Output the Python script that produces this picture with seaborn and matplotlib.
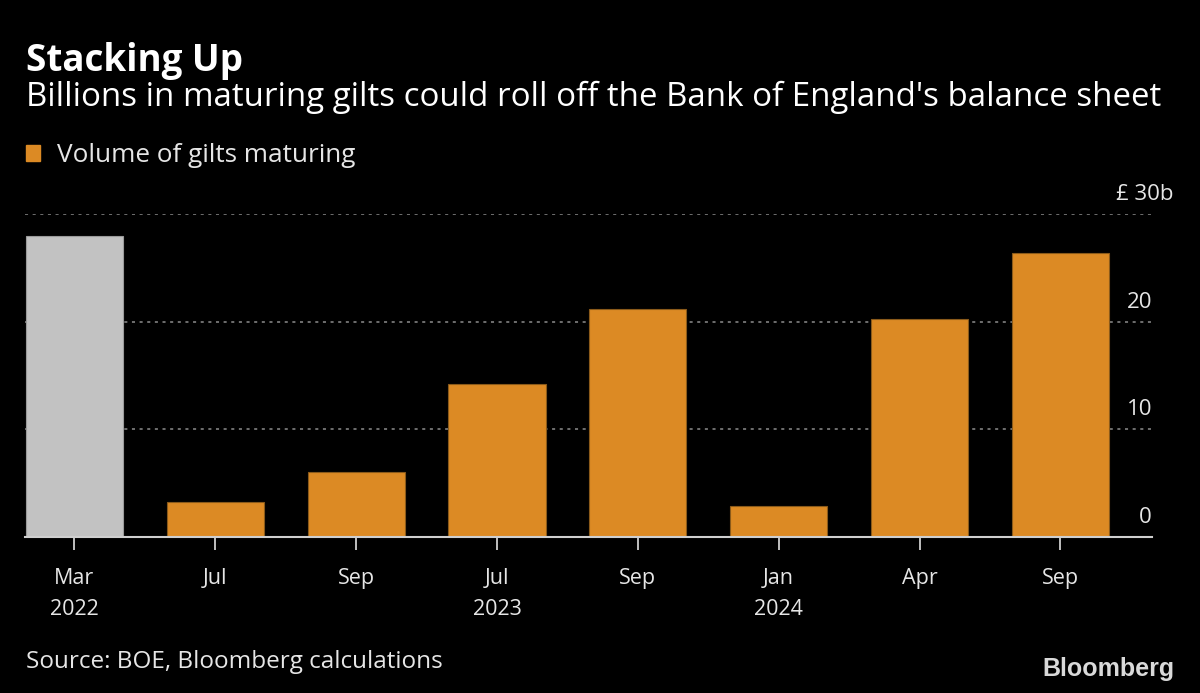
import matplotlib
matplotlib.use("Agg")
import matplotlib.pyplot as plt
import matplotlib.transforms as mtransforms
from matplotlib.patches import Patch
import numpy as np
import pandas as pd
import seaborn as sns

# data (GBP billions)
periods = ["Mar 2022", "Jul 2022", "Sep 2022", "Jul 2023", "Sep 2023", "Jan 2024", "Apr 2024", "Sep 2024"]
tick_labels = ["Mar\n2022", "Jul", "Sep", "Jul\n2023", "Sep", "Jan\n2024", "Apr", "Sep"]
volume = [28.0, 3.25, 6.0, 14.2, 21.2, 2.9, 20.3, 26.4]
y_ticks = [0, 10, 20, 30]
y_tick_labels = ["0", "10", "20", "£ 30b"]

ORANGE = "#DC8A24"
GREY = "#C2C2C2"
bar_colors = [GREY] + [ORANGE] * (len(periods) - 1)

sns.set_style("dark")
plt.rcParams["font.family"] = ["Open Sans", "DejaVu Sans"]
plt.rcParams["figure.facecolor"] = "black"
plt.rcParams["axes.facecolor"] = "black"

df = pd.DataFrame({"period": periods, "volume": volume})

fig = plt.figure(figsize=(12, 6.93), dpi=100)
ax = fig.add_axes([0.021, 0.225, 0.939, 0.466])

sns.barplot(data=df, x="period", y="volume", hue="period", palette=bar_colors,
            legend=False, width=0.69, saturation=1, ax=ax, zorder=3)
for patch, c in zip(ax.patches, bar_colors):
    patch.set_edgecolor("#8a5a1a" if c == ORANGE else "#9a9a9a")
    patch.set_linewidth(0.8)

ax.set_xlim(-0.35, 7.65)
ax.set_ylim(0, 30)
ax.set_xlabel("")
ax.set_ylabel("")

# dotted gridlines
ax.yaxis.grid(True, linestyle=(0, (2, 3)), color="#8c8c8c", linewidth=1.1, zorder=0)
ax.xaxis.grid(False)
for s in ["top", "left", "right"]:
    ax.spines[s].set_visible(False)
ax.spines["bottom"].set_color("#cfcfcf")
ax.spines["bottom"].set_linewidth(1.5)
ax.spines["bottom"].set_zorder(4)

# x ticks
ax.set_xticks(range(len(periods)))
ax.set_xticklabels(tick_labels, color="#e6e6e6", fontsize=15.5, linespacing=1.65)
ax.tick_params(axis="x", bottom=True, length=9, width=1.3, color="#cfcfcf", pad=13)

# y ticks, labels sitting above the gridlines on the right
ax.set_yticks(y_ticks)
ax.set_yticklabels(y_tick_labels)
ax.tick_params(axis="y", left=False, right=False, labelleft=False, labelright=True,
               length=0, pad=0, labelsize=16, labelcolor="#e6e6e6")
for i, lab in enumerate(ax.get_yticklabels()):
    lab.set_ha("right")
    lab.set_va("bottom")
    dx = 21 if i == len(y_ticks) - 1 else 0
    lab.set_transform(lab.get_transform() +
                      mtransforms.ScaledTranslation(dx / 100, 9 / 100, fig.dpi_scale_trans))

# titles
fig.text(0.022, 0.898, "Stacking Up", color="white", fontsize=26.5, fontweight="bold")
fig.text(0.022, 0.847, "Billions in maturing gilts could roll off the Bank of England's balance sheet",
         color="white", fontsize=23.8)

fig.legend(handles=[Patch(facecolor=ORANGE, edgecolor=ORANGE)],
           labels=["Volume of gilts maturing"], loc="center left",
           bbox_to_anchor=(0.013, 0.775), frameon=False, fontsize=18.8,
           labelcolor="#e6e6e6", handlelength=0.55, handleheight=0.55,
           handletextpad=0.65, borderaxespad=0)

fig.text(0.022, 0.036, "Source: BOE, Bloomberg calculations", color="#e6e6e6", fontsize=17.5)
fig.text(0.979, 0.024, "Bloomberg", color="#d9d9d9", fontsize=18, fontweight="bold",
         ha="right", family=["Liberation Sans", "DejaVu Sans"])

fig.savefig("out.png", dpi=100, facecolor="black")
